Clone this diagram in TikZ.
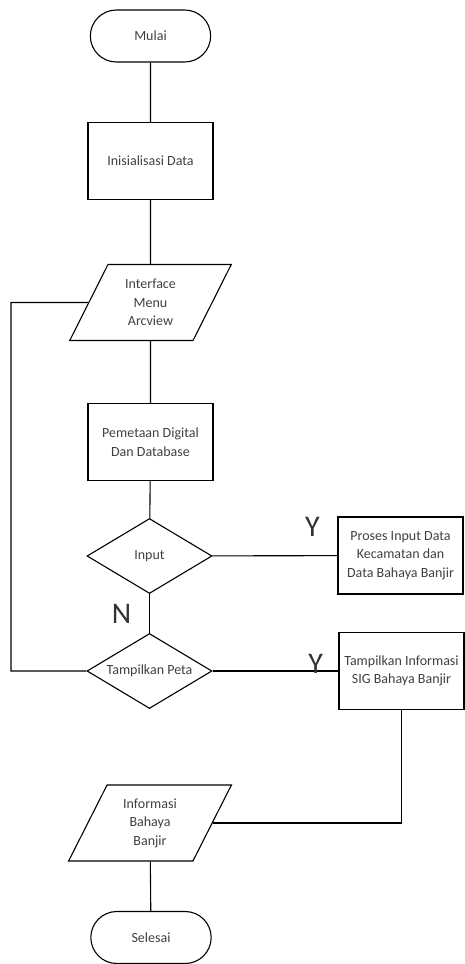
\documentclass[tikz,border=0pt]{standalone}
\usepackage{fontspec}
\setmainfont{Carlito}
\usetikzlibrary{shapes.geometric,shapes.misc}

\begin{document}
\begin{tikzpicture}[x=1pt,y=-1pt,line width=1.1pt,
    font=\fontsize{14}{18.5}\selectfont,
    terminal/.style={draw,rounded rectangle,minimum width=127pt,minimum height=52pt,text=black!75},
    proses/.style={draw,rectangle,minimum width=125pt,minimum height=77pt,align=center,inner sep=2pt,text=black!75},
    io/.style={draw,trapezium,trapezium left angle=64,trapezium right angle=116,trapezium stretches=true,
               minimum width=163pt,minimum height=76pt,align=center,inner sep=1pt,text=black!75},
    keputusan/.style={draw,diamond,aspect=1.67,minimum width=125pt,minimum height=75pt,inner sep=0pt,text=black!75},
    jawab/.style={font=\fontsize{30}{30}\selectfont,inner sep=0pt,text=black!80}]
    \useasboundingbox (0,0) rectangle (465,964);
    \node [terminal] (mulai) at (150.5,36) {Mulai};
    \node [proses] (init) at (150.5,161) {Inisialisasi Data};
    \node [io] (menu) at (150.5,302.5) {Interface\\Menu\\Arcview};
    \node [proses] (peta digital) at (150.5,442) {Pemetaan Digital\\Dan Database};
    \node [keputusan] (input) at (149.5,556) {Input};
    \node [proses] (input data) at (400.5,555.5) {Proses Input Data\\Kecamatan dan\\Data Bahaya Banjir};
    \node [keputusan] (tampil) at (149.5,671) {Tampilkan Peta};
    \node [proses] (info sig) at (401.5,671) {Tampilkan Informasi\\SIG Bahaya Banjir};
    \node [io] (info) at (150,823) {Informasi\\Bahaya\\Banjir};
    \node [terminal] (selesai) at (151,937.5) {Selesai};
    \coordinate (balik) at (11,302.5); % titik belok ke kiri
    % alur utama
    \draw (mulai) -- (init);
    \draw (init) -- (menu);
    \draw (menu) -- (peta digital);
    \draw (peta digital) -- (input);
    \draw (input) -- node[jawab,pos=0.5,xshift=-28pt] (n) {N} (tampil);
    \draw (input) -- node[jawab,pos=0.8,yshift=29pt] (y1) {Y} (input data);
    \draw (tampil) -- node[jawab,pos=0.82,yshift=7pt] (y2) {Y} (info sig);
    \draw (info sig) |- (info.east);
    \draw (info) -- (selesai);
    % kembali ke menu
    \draw (menu.west) -- (balik) |- (tampil.west);
\end{tikzpicture}
\end{document}
